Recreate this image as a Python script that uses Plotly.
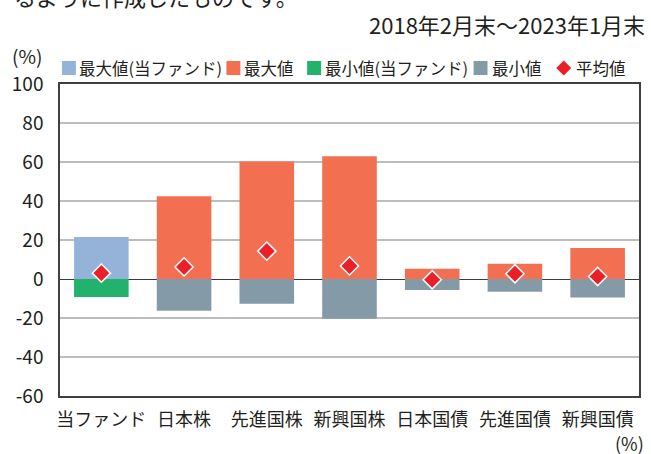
import plotly.graph_objects as go

categories = ["当ファンド", "日本株", "先進国株", "新興国株", "日本国債", "先進国債", "新興国債"]
max_fund = [21.5, None, None, None, None, None, None]
max_vals = [None, 42.5, 60.3, 63.0, 5.2, 7.8, 15.9]
min_fund = [-9.2, None, None, None, None, None, None]
min_vals = [None, -16.3, -12.7, -20.4, -5.6, -6.6, -9.5]
avg_vals = [3.0, 6.2, 14.3, 6.7, -0.4, 2.7, 1.3]
y_ticks = [-60, -40, -20, 0, 20, 40, 60, 80, 100]
y_tick_labels = ["-60", "-40", "-20", "0", "20", "40", "60", "80", "100"]
legend_labels = ["最大値(当ファンド)", "最大値", "最小値(当ファンド)", "最小値", "平均値"]

C_MAXF = "#95b3d9"
C_MAX = "#f26f51"
C_MINF = "#21b36b"
C_MIN = "#849ba7"
C_AVG = "#ea1f27"
FONT = "Noto Sans CJK JP"
TXT = "#231f20"

W, H = 651, 454
ML, MR, MT, MB = 60, 10, 84, 58
PW, PH = W - ML - MR, H - MT - MB


def px(X):
    return (X - ML) / PW


def py(Y):
    return (H - MB - Y) / PH


fig = go.Figure()
bw = 0.66
for vals, col, name in [(max_fund, C_MAXF, legend_labels[0]), (max_vals, C_MAX, legend_labels[1]),
                        (min_fund, C_MINF, legend_labels[2]), (min_vals, C_MIN, legend_labels[3])]:
    fig.add_trace(go.Bar(x=categories, y=vals, name=name, width=bw,
                         marker=dict(color=col, line=dict(width=0))))
fig.add_trace(go.Scatter(x=categories, y=avg_vals, mode="markers", name=legend_labels[4],
                         marker=dict(symbol="diamond", size=14, color=C_AVG,
                                     line=dict(color="white", width=1.5))))

fig.update_layout(
    width=W, height=H, margin=dict(l=ML, r=MR, t=MT, b=MB),
    barmode="overlay", showlegend=False,
    plot_bgcolor="white", paper_bgcolor="white",
    font=dict(family=FONT, color=TXT, size=18),
)
fig.update_yaxes(range=[-60, 100], tickvals=y_ticks, ticktext=y_tick_labels,
                 showgrid=True, gridcolor="#bdbdbd", gridwidth=1.5,
                 zeroline=True, zerolinecolor="#3a3a3a", zerolinewidth=1.2,
                 showline=True, linecolor="#404040", linewidth=1.5, mirror=True,
                 ticks="", ticklabelstandoff=11, tickfont=dict(size=19, color=TXT))
fig.update_xaxes(type="category", showgrid=False, showline=True, linecolor="#404040",
                 linewidth=1.5, mirror=True, ticks="", tickfont=dict(size=18, color=TXT),
                 ticklabelstandoff=7)

ann = []
# cut-off intro text at the very top
ann.append(dict(text="るように作成したものです。", x=px(12), y=py(-4), xanchor="left", yanchor="middle",
                font=dict(size=22, color=TXT)))
ann.append(dict(text="2018年2月末～2023年1月末", x=px(649), y=py(24), xanchor="right", yanchor="middle",
                font=dict(size=22, color=TXT)))
ann.append(dict(text="(%)", x=px(10), y=py(55), xanchor="left", yanchor="middle",
                font=dict(size=19, color=TXT)))
ann.append(dict(text="(%)", x=px(648), y=py(443), xanchor="right", yanchor="middle",
                font=dict(size=18, color=TXT)))

shapes = []
legend_y = 68
sq = 14
items = [(62, C_MAXF, 77), (227, C_MAX, 243), (308, C_MINF, 324), (475, C_MIN, 491)]
for i, (x0, col, tx) in enumerate(items):
    shapes.append(dict(type="rect", xref="paper", yref="paper", x0=px(x0), x1=px(x0 + sq),
                       y0=py(legend_y + sq / 2), y1=py(legend_y - sq / 2),
                       fillcolor=col, line=dict(width=0)))
    ann.append(dict(text=legend_labels[i], x=px(tx), y=py(legend_y), xanchor="left", yanchor="middle",
                    font=dict(size=16.5, color=TXT)))
# diamond legend symbol
dx0, dcx = 558, 565.5
shapes.append(dict(type="path", xref="paper", yref="paper",
                   path=f"M {px(dx0)},{py(legend_y)} L {px(dcx)},{py(legend_y - 7.5)} "
                        f"L {px(dx0 + 15)},{py(legend_y)} L {px(dcx)},{py(legend_y + 7.5)} Z",
                   fillcolor=C_AVG, line=dict(width=0)))
ann.append(dict(text=legend_labels[4], x=px(576), y=py(legend_y), xanchor="left", yanchor="middle",
                font=dict(size=16.5, color=TXT)))

for a in ann:
    a.update(xref="paper", yref="paper", showarrow=False)
fig.update_layout(annotations=ann, shapes=shapes)

fig.write_html("out.html", config={"displayModeBar": False},
               post_script="document.body.style.margin='0px';document.body.style.overflow='hidden';")
